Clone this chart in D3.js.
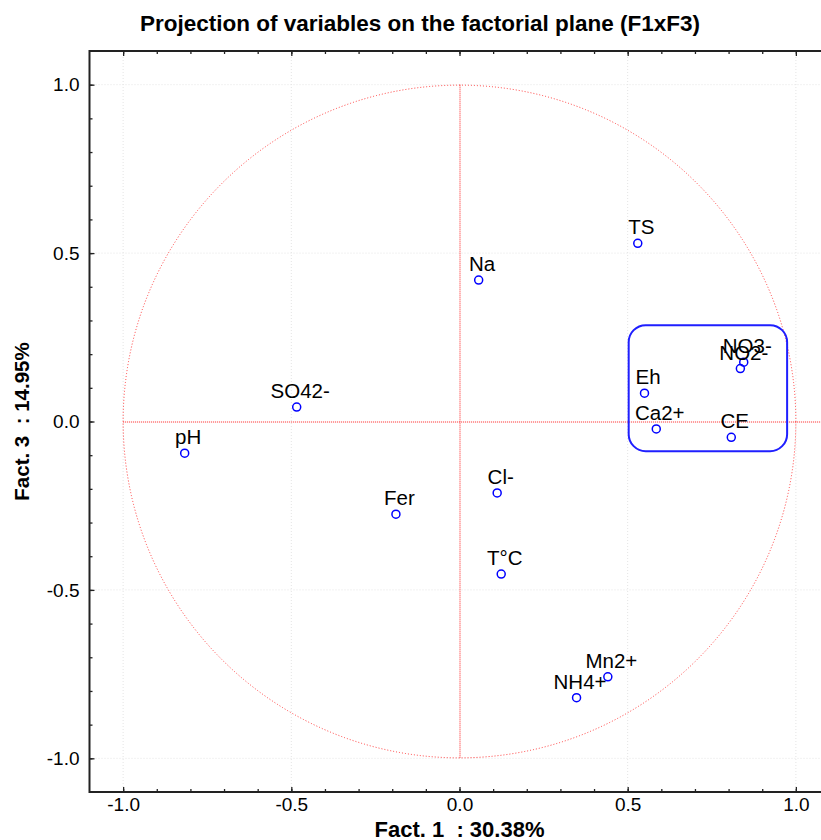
<!DOCTYPE html>
<html>
<head>
<meta charset="utf-8">
<script src="https://cdn.jsdelivr.net/npm/d3@7"></script>
<style>
  html, body { margin: 0; padding: 0; background: #fff; }
  svg { display: block; font-family: "Liberation Sans", Arial, sans-serif; }
</style>
</head>
<body>
<svg id="chart" width="821" height="840"></svg>
<script>
// ---- data ----
const variables = ["TS", "Na", "NO3-", "NO2-", "Eh", "SO42-", "Ca2+", "CE", "pH", "Cl-", "Fer", "T°C", "Mn2+", "NH4+"];
const fact1 = [0.530, 0.057, 0.845, 0.835, 0.550, -0.484, 0.585, 0.808, -0.817, 0.112, -0.189, 0.124, 0.441, 0.348];
const fact3 = [0.529, 0.420, 0.176, 0.157, 0.084, 0.043, -0.022, -0.047, -0.094, -0.212, -0.275, -0.453, -0.758, -0.820];
const majorTicks = [-1.0, -0.5, 0.0, 0.5, 1.0];
const minorTicks = [-1.0, -0.9, -0.8, -0.7, -0.6, -0.5, -0.4, -0.3, -0.2, -0.1, 0.0, 0.1, 0.2, 0.3, 0.4, 0.5, 0.6, 0.7, 0.8, 0.9, 1.0];
const axisDomain = [-1.1, 1.1];
const highlightBox = [0.503, 0.974, 0.286, -0.088]; // x0, x1, y0, y1 in factor units
const titleText = "Projection of variables on the factorial plane (F1xF3)";
const xTitle = "Fact. 1  : 30.38%";
const yTitle = "Fact. 3  : 14.95%";

(function () {
// ---- layout ----
const svg = d3.select("#chart");
const pLeft = 89.5, pRight = 829.5, pTop = 51, pBottom = 792;
const x = d3.scaleLinear().domain(axisDomain).range([pLeft, pRight]);
const y = d3.scaleLinear().domain(axisDomain).range([pBottom, pTop]);
const fmt = d => d.toFixed(1);

// gridlines (light dotted)
const grid = svg.append("g");
grid.selectAll("line.gx").data(majorTicks.filter(d => d !== 0)).join("line")
  .attr("class", "gx")
  .attr("x1", d => x(d)).attr("x2", d => x(d)).attr("y1", pTop).attr("y2", pBottom)
  .attr("stroke", "#e4e4e4").attr("stroke-width", 1).attr("stroke-dasharray", "1,2");
grid.selectAll("line.gy").data(majorTicks.filter(d => d !== 0)).join("line")
  .attr("class", "gy")
  .attr("y1", d => y(d)).attr("y2", d => y(d)).attr("x1", pLeft).attr("x2", pRight)
  .attr("stroke", "#e4e4e4").attr("stroke-width", 1).attr("stroke-dasharray", "1,2");

// correlation circle & central axes
svg.append("circle")
  .attr("cx", x(0)).attr("cy", y(0))
  .attr("r", x(1) - x(0))
  .attr("fill", "none").attr("stroke", "#ff3b3b").attr("stroke-width", 1).attr("stroke-dasharray", "1,2");
const centre = "#ff1e1e";
svg.append("path")
  .attr("d", `M${x(-1)},${y(0) + 0.5}H${x(axisDomain[1])}`)
  .attr("fill", "none").attr("stroke", centre).attr("stroke-width", 1).attr("stroke-dasharray", "1,1");
svg.append("path")
  .attr("d", `M${x(0) + 0.5},${y(1)}V${y(-1)}`)
  .attr("fill", "none").attr("stroke", centre).attr("stroke-width", 1).attr("stroke-dasharray", "1,1");

// highlight rounded box
svg.append("rect")
  .attr("x", x(highlightBox[0])).attr("y", y(highlightBox[2]))
  .attr("width", x(highlightBox[1]) - x(highlightBox[0]))
  .attr("height", y(highlightBox[3]) - y(highlightBox[2]))
  .attr("rx", 17).attr("ry", 17)
  .attr("fill", "none").attr("stroke", "#1f1fff").attr("stroke-width", 2);

// points
const pts = variables.map((v, i) => ({ name: v, f1: fact1[i], f3: fact3[i] }));
svg.append("g").selectAll("circle").data(pts).join("circle")
  .attr("cx", d => x(d.f1)).attr("cy", d => y(d.f3)).attr("r", 4)
  .attr("fill", "none").attr("stroke", "#0000ff").attr("stroke-width", 1.5);
svg.append("g").selectAll("text").data(pts).join("text")
  .attr("x", d => x(d.f1) + 3.5).attr("y", d => y(d.f3) - 9)
  .attr("text-anchor", "middle").attr("font-size", "20.5px").attr("fill", "#000")
  .text(d => d.name);

// axes
function styleAxis(g) {
  g.select(".domain").remove();
  g.selectAll(".tick line").attr("stroke", "#222").attr("stroke-width", 1.3);
  g.selectAll(".tick text").attr("fill", "#000").attr("font-size", "19px")
    .attr("font-family", "'Liberation Sans', Arial, sans-serif");
}
svg.append("g").attr("transform", `translate(0,${pBottom})`)
  .call(d3.axisBottom(x).tickValues(minorTicks).tickSize(-3).tickFormat(""))
  .call(styleAxis);
svg.append("g").attr("transform", `translate(0,${pBottom})`)
  .call(d3.axisBottom(x).tickValues(majorTicks).tickSize(-5).tickPadding(6).tickFormat(fmt))
  .call(styleAxis);
svg.append("g").attr("transform", `translate(0,${pTop})`)
  .call(d3.axisTop(x).tickValues(minorTicks).tickSize(-3).tickFormat(""))
  .call(styleAxis);
svg.append("g").attr("transform", `translate(0,${pTop})`)
  .call(d3.axisTop(x).tickValues(majorTicks).tickSize(-5).tickFormat(""))
  .call(styleAxis);
svg.append("g").attr("transform", `translate(${pLeft},0)`)
  .call(d3.axisLeft(y).tickValues(minorTicks).tickSize(-3).tickFormat(""))
  .call(styleAxis);
svg.append("g").attr("transform", `translate(${pLeft},0)`)
  .call(d3.axisLeft(y).tickValues(majorTicks).tickSize(-5).tickPadding(10).tickFormat(fmt))
  .call(styleAxis);

// frame
svg.append("rect")
  .attr("x", pLeft).attr("y", pTop).attr("width", pRight - pLeft).attr("height", pBottom - pTop)
  .attr("fill", "none").attr("stroke", "#222").attr("stroke-width", 2);

// titles
svg.append("text").attr("x", 420).attr("y", 31).attr("text-anchor", "middle")
  .attr("font-size", "22.5px").attr("font-weight", "bold").text(titleText);
svg.append("text").attr("x", x(0)).attr("y", 836.5).attr("text-anchor", "middle")
  .attr("font-size", "22px").attr("font-weight", "bold").style("white-space", "pre").text(xTitle);
svg.append("text").attr("transform", `translate(28.5,${y(0)}) rotate(-90)`).attr("text-anchor", "middle")
  .attr("font-size", "20.5px").attr("font-weight", "bold").style("white-space", "pre").text(yTitle);
})();
</script>
</body>
</html>
